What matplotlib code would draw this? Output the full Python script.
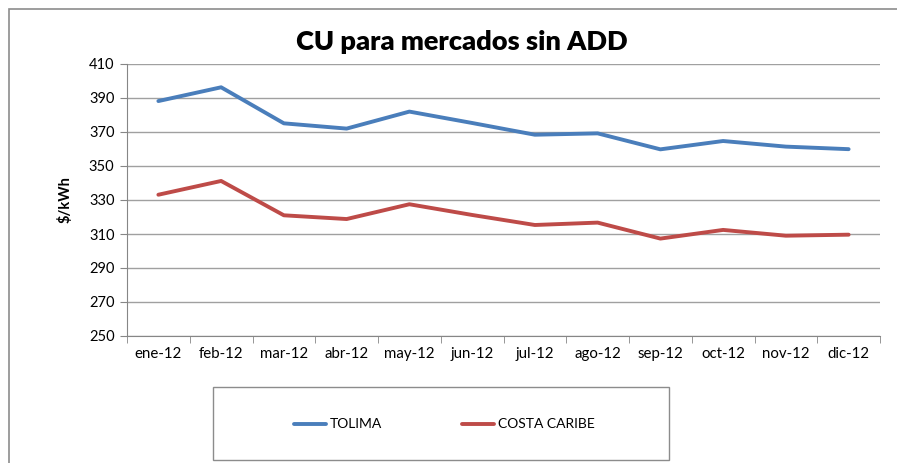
import matplotlib
matplotlib.use("Agg")
import matplotlib.pyplot as plt
from matplotlib.patches import Rectangle
from matplotlib.lines import Line2D

months = ["ene-12", "feb-12", "mar-12", "abr-12", "may-12", "jun-12",
          "jul-12", "ago-12", "sep-12", "oct-12", "nov-12", "dic-12"]
tolima = [388.2, 396.3, 375.1, 372.0, 382.0, 375.3, 368.4, 369.2, 359.8, 364.7, 361.4, 359.9]
costa_caribe = [333.1, 341.2, 321.0, 318.8, 327.5, 321.2, 315.3, 316.7, 307.3, 312.4, 309.0, 309.6]
yticks = [250, 270, 290, 310, 330, 350, 370, 390, 410]

plt.rcParams['font.family'] = ['Lato', 'DejaVu Sans']

W, H = 897, 463
fig = plt.figure(figsize=(W / 100, H / 100), dpi=100)
ax = fig.add_axes([127 / W, 1 - 336 / H, (880 - 127) / W, (336 - 64) / H])

blue = "#4a7ebb"
red = "#be4b48"
x = list(range(len(months)))
ax.plot(x, tolima, color=blue, lw=2.8, solid_capstyle='round', solid_joinstyle='round')
ax.plot(x, costa_caribe, color=red, lw=2.8, solid_capstyle='round', solid_joinstyle='round')

ax.set_xlim(-0.5, len(months) - 0.5)
ax.set_ylim(250, 410)
ax.set_yticks(yticks)
ax.set_yticklabels([str(v) for v in yticks], fontsize=10.5)
ax.set_xticks(x)
ax.set_xticklabels(months, fontsize=10.8)
ax.set_xticks([i - 0.5 for i in range(len(months) + 1)], minor=True)
ax.tick_params(axis='x', which='major', length=0, pad=8)
ax.tick_params(axis='x', which='minor', length=5, color='#868686', direction='out')
ax.tick_params(axis='y', length=5, color='#868686', pad=4)
ax.grid(axis='y', color='#a0a0a0', lw=1)
ax.set_axisbelow(True)
for s in ['top', 'right']:
    ax.spines[s].set_visible(False)
ax.spines['left'].set_color('#868686')
ax.spines['bottom'].set_color('#868686')

ax.set_ylabel("$/kWh", fontsize=10.5, fontweight='bold', labelpad=12)
fig.text(462 / W, 1 - 42 / H, "CU para mercados sin ADD", ha='center', va='center',
         fontsize=19.5, fontweight='heavy')

# outer chart border
fig.patches.append(Rectangle((9 / W, -0.05), 1.0, 1 - 9 / H + 0.05, transform=fig.transFigure,
                             fill=False, edgecolor='#8c8c8c', lw=1.2))

# legend box
fig.patches.append(Rectangle((213 / W, 1 - 460 / H), (669 - 213) / W, (460 - 387) / H,
                             transform=fig.transFigure, fill=False, edgecolor='#8c8c8c', lw=1))
ly = 1 - 424 / H
fig.add_artist(Line2D([294 / W, 326 / W], [ly, ly], color=blue, lw=2.8, solid_capstyle='round'))
fig.text(330 / W, ly, "TOLIMA", va='center', ha='left', fontsize=10)
fig.add_artist(Line2D([462 / W, 494 / W], [ly, ly], color=red, lw=2.8, solid_capstyle='round'))
fig.text(498 / W, ly, "COSTA CARIBE", va='center', ha='left', fontsize=10)

fig.savefig("out.png", dpi=100)
